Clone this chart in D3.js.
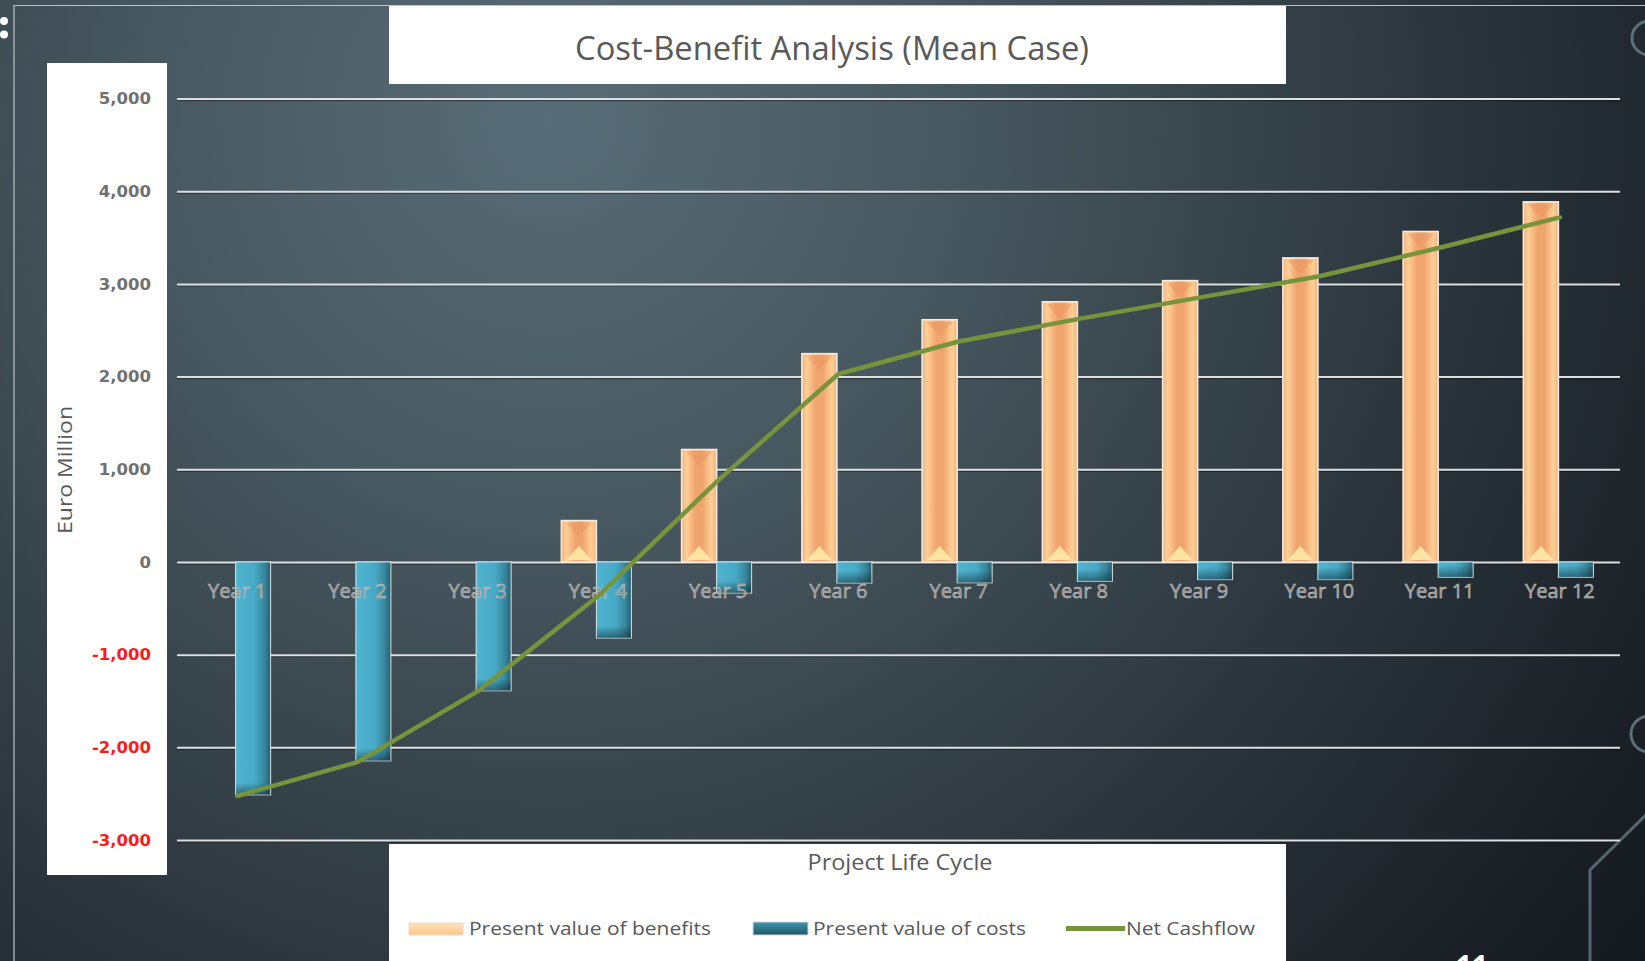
<!DOCTYPE html>
<html><head><meta charset="utf-8">
<script src="https://cdn.jsdelivr.net/npm/d3@7"></script>
<style>html,body{margin:0;padding:0;overflow:hidden;background:#1c2329}</style>
</head><body><svg id="c" width="1645" height="961"></svg>
<script>
// ---- data ----
const categories = ["Year 1","Year 2","Year 3","Year 4","Year 5","Year 6","Year 7","Year 8","Year 9","Year 10","Year 11","Year 12"];
const benefits = [0, 0, 0, 446, 1213, 2247, 2613, 2807, 3035, 3280, 3565, 3885];
const costs = [-2513, -2146, -1390, -821, -335, -227, -225, -209, -191, -191, -166, -166];
const netCashflow = [-2525, -2160, -1397, -371, 880, 2028, 2378, 2622, 2852, 3082, 3390, 3718];
const yTicks = [-3000, -2000, -1000, 0, 1000, 2000, 3000, 4000, 5000];
const seriesNames = ["Present value of benefits", "Present value of costs", "Net Cashflow"];
const titleText = "Cost-Benefit Analysis (Mean Case)";
const yAxisTitle = "Euro Million";
const xAxisTitle = "Project Life Cycle";

const W = 1645, H = 961;
const svg = d3.select("#c");
const defs = svg.append("defs");

// background
const bg = defs.append("radialGradient").attr("id","bg").attr("gradientUnits","userSpaceOnUse")
  .attr("cx",550).attr("cy",120).attr("r",1500);
[["0%","#586c77"],["28%","#47575f"],["58%","#2d373f"],["82%","#1a2026"],["100%","#0e1216"]]
  .forEach(([o,c])=>bg.append("stop").attr("offset",o).attr("stop-color",c));
svg.append("rect").attr("width",W).attr("height",H).attr("fill","url(#bg)");

// slide frame & decorations
svg.append("path").attr("d","M14,961 L14,5.5 L1645,5.5").attr("fill","none").attr("stroke","#b9c3c8").attr("stroke-width",1.2);
svg.append("circle").attr("cx",4).attr("cy",21).attr("r",4).attr("fill","#fff");
svg.append("circle").attr("cx",4).attr("cy",34.5).attr("r",4).attr("fill","#fff");
svg.append("circle").attr("cx",1649).attr("cy",38).attr("r",17).attr("fill","none").attr("stroke","#5d6e78").attr("stroke-width",3);
svg.append("circle").attr("cx",1649).attr("cy",734).attr("r",18).attr("fill","none").attr("stroke","#5d6e78").attr("stroke-width",3);
svg.append("path").attr("d","M1648,813 L1590,870 L1590,961").attr("fill","none").attr("stroke","#56666f").attr("stroke-width",3);
svg.append("text").attr("x",1456).attr("y",976).attr("font-family","Open Sans").attr("font-weight","bold")
  .attr("font-size",28).attr("fill","#fff").text("11");

// white boxes
svg.append("rect").attr("x",389).attr("y",6).attr("width",897).attr("height",78).attr("fill","#fff");
svg.append("rect").attr("x",47).attr("y",63).attr("width",120).attr("height",812).attr("fill","#fff");
svg.append("rect").attr("x",389).attr("y",844).attr("width",897).attr("height",120).attr("fill","#fff");

// title
svg.append("text").attr("x",832).attr("y",60).attr("text-anchor","middle")
  .attr("font-family","Open Sans").attr("font-size",33).attr("fill","#595959")
  .attr("textLength",514).attr("lengthAdjust","spacingAndGlyphs").text(titleText);

// scales
const x = d3.scaleBand().domain(categories).range([177, 1620]);
const y = d3.scaleLinear().domain([-3000, 5000]).range([840, 98.5]);
const cx = d => x(d) + x.bandwidth()/2;

// gridlines (shadow + line)
const gridShadow = svg.append("g").attr("transform","translate(177,1.6)")
  .call(d3.axisLeft(y).tickValues(yTicks).tickSize(-(1620-177)).tickFormat(""));
gridShadow.select(".domain").remove();
gridShadow.selectAll("line").attr("stroke","rgba(0,0,0,0.35)").attr("stroke-width",1.2);
const grid = svg.append("g").attr("transform","translate(177,0)")
  .call(d3.axisLeft(y).tickValues(yTicks).tickSize(-(1620-177)).tickFormat(""));
grid.select(".domain").remove();
grid.selectAll("line").attr("stroke","#dedede").attr("stroke-width",2);

// y tick labels
const fmt = d3.format(",");
const yLab = svg.append("g").attr("transform","translate(151,0)")
  .call(d3.axisLeft(y).tickValues(yTicks).tickSize(0).tickPadding(0)
    .tickFormat(d => fmt(d).replace("\u2212","-")));
yLab.select(".domain").remove();
yLab.selectAll("text").attr("font-family","DejaVu Sans").attr("font-weight","bold").attr("font-size",16.5)
  .attr("fill", d => d < 0 ? "#ff1a1a" : "#707070");

// y axis title
svg.append("text").attr("transform","translate(72,470) rotate(-90)").attr("text-anchor","middle")
  .attr("font-family","Open Sans").attr("font-size",20).attr("fill","#595959")
  .attr("textLength",128).attr("lengthAdjust","spacingAndGlyphs").text(yAxisTitle);

// gradients for bars
const og = defs.append("linearGradient").attr("id","og").attr("x1","0").attr("x2","1").attr("y1","0").attr("y2","0");
[["0%","#f2ae78"],["14%","#ffd096"],["40%","#f0a46e"],["60%","#f0a46e"],["86%","#ffd096"],["100%","#f2ae78"]]
  .forEach(([o,c])=>og.append("stop").attr("offset",o).attr("stop-color",c));
const tg = defs.append("linearGradient").attr("id","tg").attr("x1","0").attr("x2","1").attr("y1","0").attr("y2","0");
[["0%","#4fb4d0"],["55%","#47a9c5"],["82%","#37879d"],["100%","#275f70"]]
  .forEach(([o,c])=>tg.append("stop").attr("offset",o).attr("stop-color",c));
const tgv = defs.append("linearGradient").attr("id","tgv").attr("x1","0").attr("x2","0").attr("y1","0").attr("y2","1");
[["0%","rgba(0,0,0,0)"],["100%","rgba(0,20,30,0.45)"]]
  .forEach(([o,c])=>tgv.append("stop").attr("offset",o).attr("stop-color",c));

const barW = 35;
const benData = categories.map((c,i)=>({c, v:benefits[i]})).filter(d=>d.v>0);
const costData = categories.map((c,i)=>({c, v:costs[i]}));

// benefit bars
const bg2 = svg.append("g");
bg2.selectAll("rect").data(benData).join("rect")
  .attr("x", d=>cx(d.c)-barW-1.5).attr("width", barW)
  .attr("y", d=>y(d.v)).attr("height", d=>y(0)-y(d.v))
  .attr("fill","url(#og)").attr("stroke","#f4ebe3").attr("stroke-width",1.6);
bg2.selectAll("path.bot").data(benData).join("path").attr("class","bot")
  .attr("d", d=>{const l=cx(d.c)-barW-1.5, r=l+barW, b=y(0)-2; return `M${l+5},${b} L${r-5},${b} L${(l+r)/2},${b-14} Z`;})
  .attr("fill","#ffeaa8").attr("opacity",0.9);
bg2.selectAll("path.top").data(benData).join("path").attr("class","top")
  .attr("d", d=>{const l=cx(d.c)-barW-1.5, r=l+barW, t=y(d.v)+2; return `M${l+4},${t} L${r-4},${t} L${(l+r)/2},${t+14} Z`;})
  .attr("fill","#e8935e").attr("opacity",0.45);

// cost bars
const cg = svg.append("g");
cg.selectAll("rect.c").data(costData).join("rect").attr("class","c")
  .attr("x", d=>cx(d.c)-1.5).attr("width", barW)
  .attr("y", y(0)).attr("height", d=>y(d.v)-y(0))
  .attr("fill","url(#tg)").attr("stroke","#d5e6ea").attr("stroke-width",1);
cg.selectAll("rect.s").data(costData).join("rect").attr("class","s")
  .attr("x", d=>cx(d.c)-1).attr("width", barW-1)
  .attr("y", d=>Math.max(y(0), y(d.v)-12)).attr("height", d=>Math.min(12, y(d.v)-y(0)))
  .attr("fill","url(#tgv)");

// x labels
svg.append("g").selectAll("text").data(categories).join("text")
  .attr("x", d=>cx(d)).attr("y", 598).attr("text-anchor","middle")
  .attr("font-family","Open Sans").attr("font-size",20)
  .attr("fill","#8a8580").attr("stroke","#d8d8d8").attr("stroke-width",0.45)
  .text(d=>d);

// net cashflow line
const line = d3.line().x((d,i)=>cx(categories[i])).y(d=>y(d));
svg.append("path").datum(netCashflow).attr("d", line)
  .attr("fill","none").attr("stroke","#77933c").attr("stroke-width",4.5)
  .attr("stroke-linejoin","round").attr("stroke-linecap","round");

// x axis title
svg.append("text").attr("x",900).attr("y",870).attr("text-anchor","middle")
  .attr("font-family","Open Sans").attr("font-size",21).attr("fill","#595959")
  .attr("textLength",185).attr("lengthAdjust","spacingAndGlyphs").text(xAxisTitle);

// legend
const lg = svg.append("g");
const olg = defs.append("linearGradient").attr("id","olg").attr("x1","0").attr("x2","0").attr("y1","0").attr("y2","1");
[["0%","#ffe2b8"],["100%","#ffc588"]].forEach(([o,c])=>olg.append("stop").attr("offset",o).attr("stop-color",c));
const tlg = defs.append("linearGradient").attr("id","tlg").attr("x1","0").attr("x2","0").attr("y1","0").attr("y2","1");
[["0%","#3f97ae"],["100%","#1d5666"]].forEach(([o,c])=>tlg.append("stop").attr("offset",o).attr("stop-color",c));
lg.append("rect").attr("x",409).attr("y",923).attr("width",54).attr("height",12)
  .attr("fill","url(#olg)").attr("stroke","#e8dccf").attr("stroke-width",1);
lg.append("rect").attr("x",753).attr("y",922).attr("width",55).attr("height",13)
  .attr("fill","url(#tlg)").attr("stroke","#c9dde2").attr("stroke-width",1);
lg.append("line").attr("x1",1066).attr("x2",1125).attr("y1",928.5).attr("y2",928.5)
  .attr("stroke","#77933c").attr("stroke-width",5);
const legendPos = [{x:469, w:242}, {x:813, w:213}, {x:1126, w:129}];
lg.selectAll("text").data(seriesNames).join("text")
  .attr("x",(d,i)=>legendPos[i].x).attr("y",935)
  .attr("font-family","Open Sans").attr("font-size",19).attr("fill","#595959")
  .attr("textLength",(d,i)=>legendPos[i].w).attr("lengthAdjust","spacingAndGlyphs")
  .text(d=>d);
</script></body></html>
